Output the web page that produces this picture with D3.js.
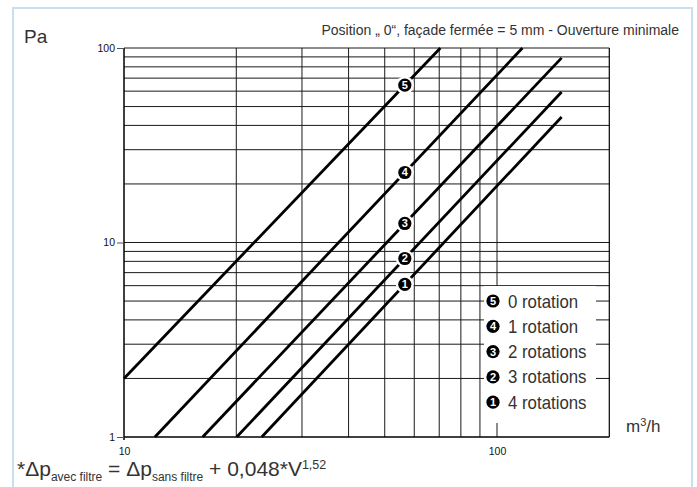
<!DOCTYPE html>
<html><head><meta charset="utf-8">
<script src="https://cdn.jsdelivr.net/npm/d3@7"></script>
<style>body{margin:0;background:#fff}svg{display:block}</style></head>
<body>
<svg id="c" width="697" height="487"></svg>
<script>
const flowTicks = [10, 100];
const pressureTicks = [1, 10, 100];
const flowGrid = [20, 30, 40, 50, 60, 70, 80, 90, 100];
const pressureGrid = [2, 3, 4, 5, 6, 7, 8, 9, 10, 20, 30, 40, 50, 60, 70, 80, 90, 100];
const seriesNumbers = [5, 4, 3, 2, 1];
const seriesLabels = ["0 rotation", "1 rotation", "2 rotations", "3 rotations", "4 rotations"];
const flowStart = [10, 12.1, 16.25, 20.05, 23.4];
const pressureStart = [2.0, 1, 1, 1, 1];
const flowEnd = [70.5, 117, 149, 149, 149];
const pressureEnd = [100, 100, 89, 59.4, 44.2];
const markerFlow = 56.6;

const svg = d3.select("#c");
const x = d3.scaleLog().domain([10, 200]).range([124, 609.3]);
const y = d3.scaleLog().domain([1, 100]).range([437, 48]);
const X0 = x(10), X1 = x(200), Y0 = y(1), Y1 = y(100);
const FONT = "Liberation Sans, Arial, Helvetica, sans-serif";

// outer light-blue frame
svg.append("path").attr("d", `M13,495 V8 H692 V495`)
  .attr("fill", "none").attr("stroke", "#c9dff0").attr("stroke-width", 2);

// grid
const g = svg.append("g");
g.selectAll(".hg").data(pressureGrid).join("line")
  .attr("x1", X0).attr("x2", X1).attr("y1", d => y(d)).attr("y2", d => y(d))
  .attr("stroke", "#1a1a1a").attr("stroke-width", 1);
g.selectAll(".vg").data(flowGrid).join("line")
  .attr("y1", Y0).attr("y2", Y1).attr("x1", d => x(d)).attr("x2", d => x(d))
  .attr("stroke", "#1a1a1a").attr("stroke-width", 1);
// frame of plot
g.append("line").attr("x1", X0).attr("x2", X0).attr("y1", Y0 + 3).attr("y2", Y1).attr("stroke", "#000").attr("stroke-width", 1.5);
g.append("line").attr("x1", X0).attr("x2", X1).attr("y1", Y0).attr("y2", Y0).attr("stroke", "#000").attr("stroke-width", 1.5);
g.append("line").attr("x1", X1).attr("x2", X1).attr("y1", Y0).attr("y2", Y1).attr("stroke", "#000").attr("stroke-width", 1.2);

// axes
const ya = svg.append("g").attr("transform", `translate(${X0},0)`)
  .call(d3.axisLeft(y).tickValues(pressureTicks).tickSize(7).tickPadding(2).tickFormat(d3.format("d")));
ya.select(".domain").remove();
ya.selectAll("line").attr("stroke", "#555");
ya.selectAll("text").attr("font-family", FONT).attr("font-size", 10.5).attr("fill", "#111");

const xa = svg.append("g").attr("transform", `translate(0,${Y0})`)
  .call(d3.axisBottom(x).tickValues(flowTicks).tickSize(0).tickPadding(11).tickFormat(d3.format("d")));
xa.select(".domain").remove();
xa.selectAll("text").attr("font-family", FONT).attr("font-size", 10.5).attr("fill", "#111");

// legend white background
svg.append("rect").attr("x", 484).attr("y", 286).attr("width", 112).attr("height", 137).attr("fill", "#fff");

// series lines
const idx = d3.range(seriesNumbers.length);
const line = d3.line().x(d => x(d[0])).y(d => y(d[1]));
svg.append("g").selectAll("path").data(idx).join("path")
  .attr("d", i => line([[flowStart[i], pressureStart[i]], [flowEnd[i], pressureEnd[i]]]))
  .attr("fill", "none").attr("stroke", "#000").attr("stroke-width", 2.8);

// markers on lines
function markerPos(i) {
  const t = (Math.log(markerFlow) - Math.log(flowStart[i])) / (Math.log(flowEnd[i]) - Math.log(flowStart[i]));
  const lp = Math.log(pressureStart[i]) + t * (Math.log(pressureEnd[i]) - Math.log(pressureStart[i]));
  return [x(markerFlow), y(Math.exp(lp))];
}
function badge(sel, cx, cy, n) {
  sel.append("circle").attr("cx", cx).attr("cy", cy).attr("r", 6.6).attr("fill", "#000");
  sel.append("text").attr("x", cx).attr("y", cy + 3.9).attr("text-anchor", "middle")
    .attr("font-family", FONT).attr("font-weight", "bold")
    .attr("font-size", 11).attr("fill", "#fff").text(n);
}
const mk = svg.append("g");
idx.forEach(i => {
  const [cx, cy] = markerPos(i);
  mk.append("circle").attr("cx", cx).attr("cy", cy).attr("r", 9).attr("fill", "#fff");
  badge(mk, cx, cy, seriesNumbers[i]);
});

// legend
const lg = svg.append("g");
const sx = 0.935;
idx.forEach(i => {
  const cy = 301 + i * 25.3;
  badge(lg, 493, cy, seriesNumbers[i]);
  lg.append("text").attr("transform", `translate(508,${cy + 6.5}) scale(${sx},1)`)
    .attr("font-family", FONT)
    .attr("font-size", 18).attr("fill", "#333").text(seriesLabels[i]);
});

// texts
svg.append("text").attr("x", 24).attr("y", 43).attr("font-family", FONT)
  .attr("font-size", 19).attr("fill", "#333").text("Pa");
svg.append("text").attr("x", 679).attr("y", 35).attr("text-anchor", "end")
  .attr("font-family", FONT)
  .attr("font-size", 14).attr("fill", "#333").text("Position \u201E 0\u201C, façade fermée = 5 mm - Ouverture minimale");
const mu = svg.append("text").attr("x", 626).attr("y", 432)
  .attr("font-family", FONT).attr("font-size", 17).attr("fill", "#333");
mu.append("tspan").text("m");
mu.append("tspan").attr("font-size", 11).attr("dy", -6).text("3");
mu.append("tspan").attr("dy", 6).text("/h");

const f = svg.append("text").attr("x", 17).attr("y", 476)
  .attr("font-family", FONT).attr("font-size", 21).attr("fill", "#333");
f.append("tspan").text("*\u0394p");
f.append("tspan").attr("font-size", 12).attr("dy", 5).text("avec filtre");
f.append("tspan").attr("dy", -5).text(" = \u0394p");
f.append("tspan").attr("font-size", 12).attr("dy", 5).text("sans filtre");
f.append("tspan").attr("dy", -5).text(" + 0,048*V");
f.append("tspan").attr("font-size", 12.5).attr("dy", -7).text("1,52");
</script>
</body></html>
